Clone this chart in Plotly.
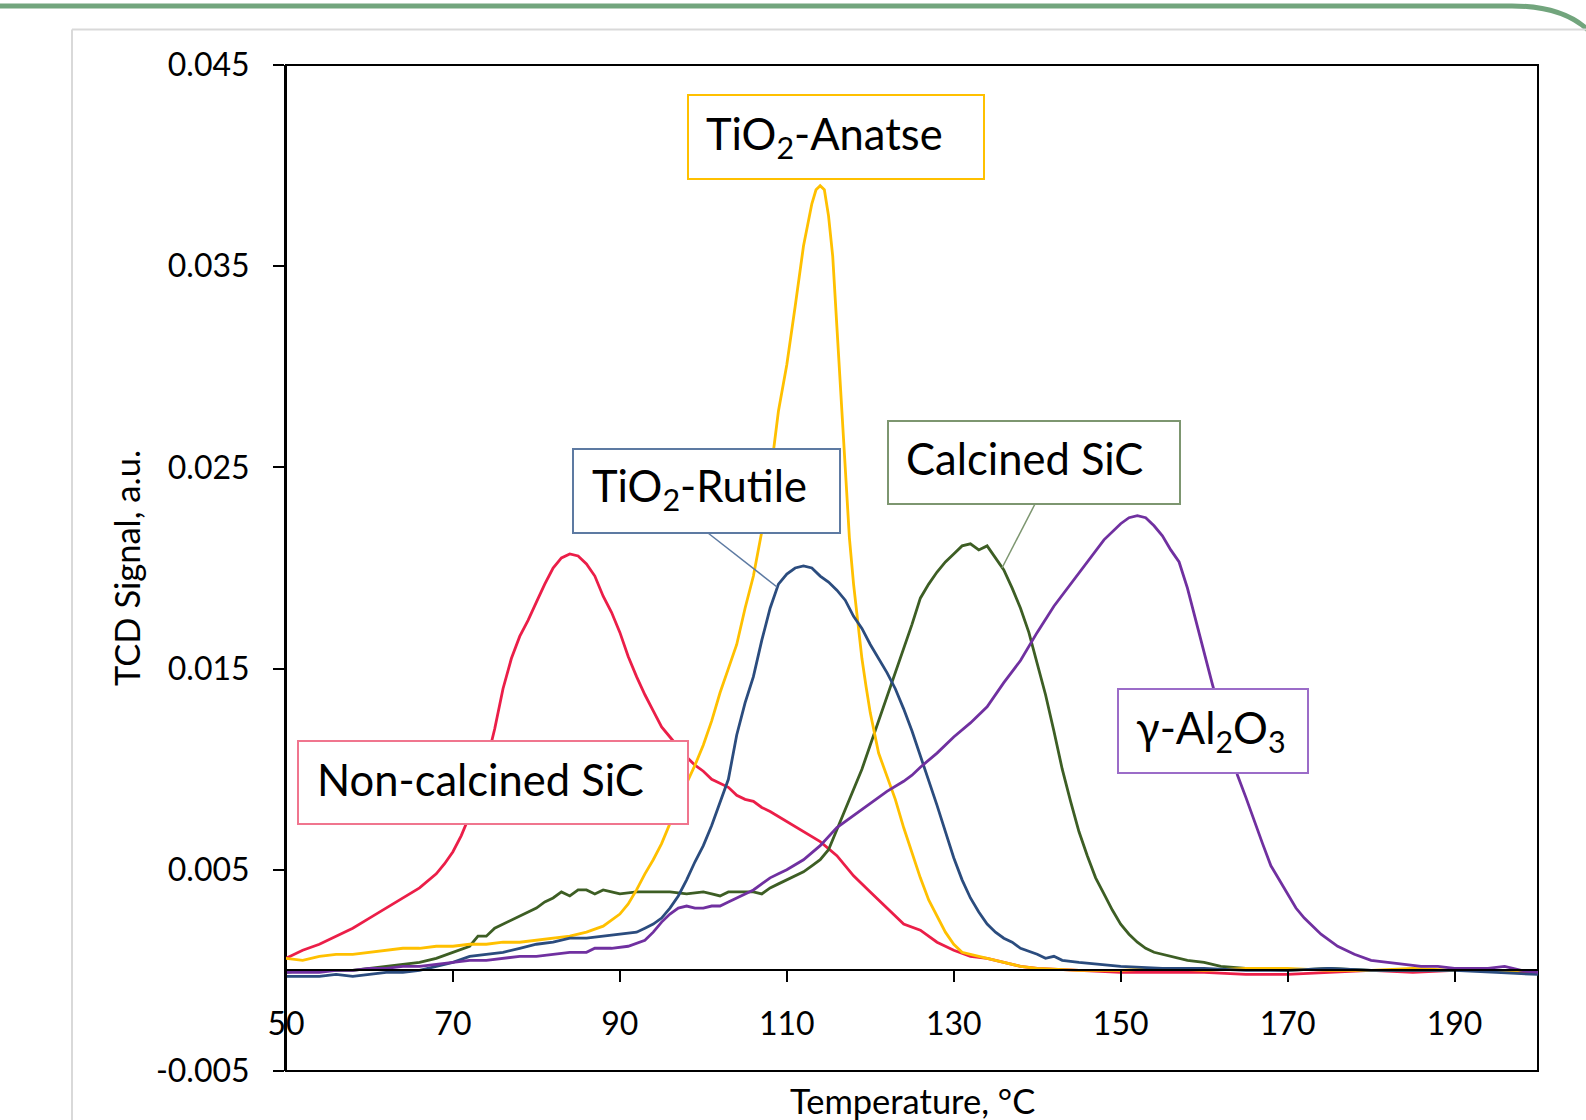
import plotly.graph_objects as go

# ---------------- data ----------------
t_noncalc = [50, 52, 54, 56, 58, 60, 62, 64, 66, 68, 69, 70, 71, 72, 73, 74, 75, 76, 77, 78, 79, 80,
             81, 82, 83, 84, 85, 86, 87, 88, 89, 90, 91, 92, 93, 94, 95, 96, 97, 98, 99, 100, 101,
             102, 103, 104, 105, 106, 107, 108, 110, 112, 114, 116, 118, 120, 122, 124, 126, 128,
             130, 132, 134, 136, 138, 140, 145, 150, 155, 160, 165, 170, 175, 180, 185, 190, 195, 200]
s_noncalc = [0.0006, 0.0010, 0.0013, 0.0017, 0.0021, 0.0026, 0.0031, 0.0036, 0.0041, 0.0048, 0.0053,
             0.0059, 0.0067, 0.0077, 0.0089, 0.0103, 0.0120, 0.0140, 0.0155, 0.0166, 0.0174, 0.0183,
             0.0192, 0.0200, 0.0205, 0.0207, 0.0206, 0.0202, 0.0196, 0.0186, 0.0178, 0.0168, 0.0156,
             0.0146, 0.0137, 0.0129, 0.0121, 0.0116, 0.0111, 0.0106, 0.0102, 0.0099, 0.0095, 0.0093,
             0.0091, 0.0087, 0.0085, 0.0084, 0.0081, 0.0079, 0.0074, 0.0069, 0.0064, 0.0057, 0.0047,
             0.0039, 0.0031, 0.0023, 0.0020, 0.0014, 0.0010, 0.0007, 0.0006, 0.0004, 0.0002, 0.0001,
             0.0000, -0.0001, -0.0001, -0.0001, -0.0002, -0.0002, -0.0001, 0.0000, -0.0001, 0.0000,
             0.0000, -0.0001]

t_calc = [50, 52, 54, 56, 58, 60, 62, 64, 66, 68, 70, 72, 73, 74, 75, 76, 78, 80, 81, 82, 83, 84, 85,
          86, 87, 88, 89, 90, 92, 94, 96, 98, 100, 101, 102, 103, 104, 106, 107, 108, 109, 110, 111,
          112, 113, 114, 115, 116, 117, 118, 119, 120, 121, 122, 123, 124, 125, 126, 127, 128, 129,
          130, 131, 132, 133, 134, 135, 136, 137, 138, 139, 140, 141, 142, 143, 144, 145, 146, 147,
          148, 149, 150, 151, 152, 153, 154, 156, 158, 160, 162, 165, 170, 175, 180, 185, 190, 195, 200]
s_calc = [-0.0001, 0.0000, 0.0000, 0.0000, 0.0000, 0.0001, 0.0002, 0.0003, 0.0004, 0.0006, 0.0009,
          0.0012, 0.0017, 0.0017, 0.0021, 0.0023, 0.0027, 0.0031, 0.0034, 0.0036, 0.0039, 0.0037,
          0.0040, 0.0040, 0.0038, 0.0040, 0.0039, 0.0038, 0.0039, 0.0039, 0.0039, 0.0038, 0.0039,
          0.0038, 0.0037, 0.0039, 0.0039, 0.0039, 0.0038, 0.0041, 0.0043, 0.0045, 0.0047, 0.0049,
          0.0052, 0.0055, 0.0060, 0.0070, 0.0080, 0.0090, 0.0100, 0.0112, 0.0124, 0.0135, 0.0147,
          0.0160, 0.0172, 0.0185, 0.0192, 0.0198, 0.0203, 0.0207, 0.0211, 0.0212, 0.0209, 0.0211,
          0.0205, 0.0199, 0.0190, 0.0180, 0.0168, 0.0153, 0.0137, 0.0119, 0.0100, 0.0084, 0.0069,
          0.0057, 0.0046, 0.0038, 0.0030, 0.0023, 0.0018, 0.0014, 0.0011, 0.0009, 0.0007, 0.0005,
          0.0004, 0.0002, 0.0001, 0.0000, 0.0001, 0.0000, 0.0000, 0.0000, 0.0000, 0.0000]

t_anatase = [50, 52, 54, 56, 58, 60, 62, 64, 66, 68, 70, 72, 74, 76, 78, 80, 82, 84, 86, 88, 89, 90,
             91, 92, 93, 94, 95, 96, 97, 98, 99, 100, 101, 102, 103, 104, 105, 106, 107, 108, 109,
             110, 111, 112, 113, 113.5, 114, 114.5, 115, 115.5, 116, 116.5, 117, 117.5, 118, 118.5,
             119, 119.5, 120, 121, 122, 123, 124, 125, 126, 127, 128, 129, 130, 131, 132, 134, 136,
             138, 140, 145, 150, 155, 160, 165, 170, 175, 180, 185, 190, 195, 200]
s_anatase = [0.0006, 0.0005, 0.0007, 0.0008, 0.0008, 0.0009, 0.0010, 0.0011, 0.0011, 0.0012, 0.0012,
             0.0013, 0.0013, 0.0014, 0.0014, 0.0015, 0.0016, 0.0017, 0.0019, 0.0022, 0.0025, 0.0028,
             0.0033, 0.0040, 0.0048, 0.0055, 0.0063, 0.0073, 0.0083, 0.0093, 0.0102, 0.0112, 0.0124,
             0.0138, 0.0150, 0.0162, 0.0180, 0.0196, 0.0218, 0.0245, 0.0278, 0.0301, 0.0330, 0.0360,
             0.0381, 0.0388, 0.0390, 0.0388, 0.0375, 0.0355, 0.0320, 0.0283, 0.0248, 0.0215, 0.0192,
             0.0172, 0.0155, 0.0141, 0.0128, 0.0108, 0.0096, 0.0085, 0.0071, 0.0058, 0.0046, 0.0035,
             0.0027, 0.0019, 0.0013, 0.0009, 0.0008, 0.0006, 0.0004, 0.0002, 0.0001, 0.0000, 0.0000,
             0.0001, 0.0000, 0.0001, 0.0001, 0.0000, 0.0000, 0.0001, 0.0000, 0.0000, 0.0000]

t_rutile = [50, 52, 54, 56, 58, 60, 62, 64, 66, 68, 70, 72, 74, 76, 78, 80, 82, 84, 86, 88, 90, 92,
            93, 94, 95, 96, 97, 98, 99, 100, 101, 102, 103, 104, 105, 106, 107, 108, 109, 110, 111,
            112, 113, 114, 115, 116, 117, 118, 119, 120, 121, 122, 123, 124, 125, 126, 127, 128, 129,
            130, 131, 132, 133, 134, 135, 136, 137, 138, 140, 141, 142, 143, 145, 148, 150, 155, 160,
            165, 170, 175, 180, 185, 190, 195, 200]
s_rutile = [-0.0003, -0.0003, -0.0003, -0.0002, -0.0003, -0.0002, -0.0001, -0.0001, 0.0000, 0.0002,
            0.0004, 0.0007, 0.0008, 0.0009, 0.0011, 0.0013, 0.0014, 0.0016, 0.0016, 0.0017, 0.0018,
            0.0019, 0.0021, 0.0023, 0.0026, 0.0031, 0.0037, 0.0045, 0.0054, 0.0062, 0.0072, 0.0083,
            0.0095, 0.0117, 0.0133, 0.0146, 0.0164, 0.0180, 0.0192, 0.0197, 0.0200, 0.0201, 0.0200,
            0.0196, 0.0193, 0.0189, 0.0184, 0.0176, 0.0170, 0.0162, 0.0155, 0.0148, 0.0140, 0.0130,
            0.0119, 0.0107, 0.0095, 0.0082, 0.0069, 0.0056, 0.0045, 0.0036, 0.0029, 0.0023, 0.0019,
            0.0016, 0.0014, 0.0011, 0.0008, 0.0006, 0.0007, 0.0005, 0.0004, 0.0003, 0.0002, 0.0001,
            0.0001, 0.0000, 0.0000, 0.0001, 0.0000, 0.0000, 0.0000, -0.0001, -0.0002]

t_alumina = [50, 52, 54, 56, 58, 60, 62, 64, 66, 68, 70, 72, 74, 76, 78, 80, 82, 84, 86, 87, 89, 91,
             93, 94, 95, 96, 97, 98, 99, 100, 101, 102, 103, 104, 105, 106, 107, 108, 109, 110, 112,
             114, 116, 118, 120, 122, 124, 125, 126, 128, 130, 132, 134, 136, 138, 140, 142, 144, 146,
             148, 150, 151, 152, 153, 154, 155, 156, 157, 158, 159, 160, 161, 162, 163, 164, 165, 166,
             167, 168, 169, 170, 171, 172, 174, 176, 178, 180, 182, 184, 186, 188, 190, 192, 194, 196,
             198, 200]
s_alumina = [-0.0001, -0.0001, -0.0001, 0.0000, 0.0000, 0.0001, 0.0001, 0.0002, 0.0002, 0.0003,
             0.0004, 0.0005, 0.0005, 0.0006, 0.0007, 0.0007, 0.0008, 0.0009, 0.0009, 0.0011, 0.0011,
             0.0012, 0.0015, 0.0019, 0.0024, 0.0028, 0.0031, 0.0032, 0.0031, 0.0031, 0.0032, 0.0032,
             0.0034, 0.0036, 0.0038, 0.0040, 0.0043, 0.0046, 0.0048, 0.0050, 0.0055, 0.0062, 0.0071,
             0.0077, 0.0083, 0.0089, 0.0094, 0.0097, 0.0101, 0.0108, 0.0116, 0.0123, 0.0131, 0.0143,
             0.0154, 0.0168, 0.0181, 0.0192, 0.0203, 0.0214, 0.0222, 0.0225, 0.0226, 0.0225, 0.0221,
             0.0216, 0.0209, 0.0203, 0.0190, 0.0174, 0.0157, 0.0142, 0.0127, 0.0112, 0.0097, 0.0086,
             0.0074, 0.0063, 0.0052, 0.0045, 0.0038, 0.0031, 0.0026, 0.0018, 0.0012, 0.0008, 0.0005,
             0.0004, 0.0003, 0.0002, 0.0002, 0.0001, 0.0001, 0.0001, 0.0002, 0.0000, -0.0001]

x_ticks = [50, 70, 90, 110, 130, 150, 170, 190]
y_ticks = [-0.005, 0.005, 0.015, 0.025, 0.035, 0.045]
y_tick_text = ["-0.005", "0.005", "0.015", "0.025", "0.035", "0.045"]

# ---------------- figure ----------------
W, H = 1586, 1120
ML, MR, MT, MB = 286, 48, 65, 49
FONT = "Lato"


def px(X):
    return (X - ML) / (W - ML - MR)


def py(Y):
    return (H - MB - Y) / (H - MT - MB)


series = [
    (t_noncalc, s_noncalc, "#EB1E48", "Non-calcined SiC"),
    (t_calc, s_calc, "#3D5E24", "Calcined SiC"),
    (t_anatase, s_anatase, "#FFC000", "TiO2-Anatse"),
    (t_rutile, s_rutile, "#2B4C7E", "TiO2-Rutile"),
    (t_alumina, s_alumina, "#7030A0", "γ-Al2O3"),
]

fig = go.Figure()
for tx, sy, col, name in series:
    fig.add_trace(go.Scatter(x=tx, y=sy, mode="lines", name=name,
                             line=dict(color=col, width=2.8), showlegend=False))

shapes = []
# slide decorations
shapes.append(dict(type="path", xref="paper", yref="paper",
                   path=f"M {px(-5)},{py(6)} L {px(1512)},{py(6)} Q {px(1566)},{py(6)} {px(1592)},{py(34)}",
                   line=dict(color="#72A57D", width=5)))
shapes.append(dict(type="line", xref="paper", yref="paper", x0=px(72), y0=py(29.5), x1=px(1590), y1=py(29.5),
                   line=dict(color="#D9D9D9", width=2)))
shapes.append(dict(type="line", xref="paper", yref="paper", x0=px(72), y0=py(29.5), x1=px(72), y1=py(1125),
                   line=dict(color="#D9D9D9", width=2)))
# plot frame
shapes.append(dict(type="rect", xref="paper", yref="paper", x0=0, y0=0, x1=1, y1=1,
                   line=dict(color="black", width=2), layer="below"))

# label boxes: (x0, y0, x1, y1, border colour)
boxes = [
    (688, 95, 984, 179, "#FFC000"),
    (573, 449, 840, 533, "#5D7AA2"),
    (888, 421, 1180, 504, "#7D9670"),
    (1118, 689, 1308, 773, "#9B6CC8"),
    (298, 741, 688, 824, "#F0758E"),
]
# leader lines
shapes.append(dict(type="line", xref="paper", yref="paper", x0=px(708), y0=py(533), x1=px(777), y1=py(587),
                   line=dict(color="#5D7AA2", width=1.5)))
shapes.append(dict(type="line", xref="paper", yref="paper", x0=px(1035), y0=py(504), x1=px(1002), y1=py(568),
                   line=dict(color="#7D9670", width=1.5)))
for x0, y0, x1, y1, col in boxes:
    shapes.append(dict(type="rect", xref="paper", yref="paper", x0=px(x0), y0=py(y0), x1=px(x1), y1=py(y1),
                       line=dict(color=col, width=2), fillcolor="white", layer="above"))

labels = [
    ("TiO<sub>2</sub>-Anatse", 704, 136),
    ("TiO<sub>2</sub>-Rutile", 590, 488),
    ("Calcined SiC", 904, 458),
    ("γ-Al<sub>2</sub>O<sub>3</sub>", 1134, 730),
    ("Non-calcined SiC", 315, 779),
]
annotations = []
for txt, lx, ly in labels:
    annotations.append(dict(text=txt, xref="paper", yref="paper", x=px(lx), y=py(ly),
                            xanchor="left", yanchor="middle", showarrow=False,
                            font=dict(family=FONT, size=43.5, color="black")))
# axis titles
annotations.append(dict(text="Temperature, °C", xref="paper", yref="paper", x=px(912), y=py(1100),
                        xanchor="center", yanchor="middle", showarrow=False,
                        font=dict(family=FONT, size=34.5, color="black")))
annotations.append(dict(text="TCD Signal, a.u.", xref="paper", yref="paper", x=px(126), y=py(568),
                        xanchor="center", yanchor="middle", showarrow=False, textangle=-90,
                        font=dict(family=FONT, size=34.5, color="black")))

fig.update_layout(
    width=W, height=H,
    margin=dict(l=ML, r=MR, t=MT, b=MB, autoexpand=False),
    paper_bgcolor="white", plot_bgcolor="white",
    font=dict(family=FONT, color="black"),
    shapes=shapes, annotations=annotations,
    xaxis=dict(range=[50, 200], tickvals=x_ticks, ticks="outside", ticklen=11, tickwidth=2,
               tickcolor="black", showline=True, linecolor="black", linewidth=2,
               anchor="free", position=0.1, showgrid=False, zeroline=False,
               tickfont=dict(family=FONT, size=32, color="black"), ticklabelstandoff=14),
    yaxis=dict(range=[-0.005, 0.045], tickvals=y_ticks, ticktext=y_tick_text, ticks="outside",
               ticklen=11, tickwidth=2, tickcolor="black", showline=True, linecolor="black",
               linewidth=2, showgrid=False, zeroline=False,
               tickfont=dict(family=FONT, size=32, color="black"), ticklabelstandoff=17),
)

fig.write_html("out.html", config={"displayModeBar": False},
               post_script="document.body.style.margin='0px';document.body.style.overflow='hidden';")
